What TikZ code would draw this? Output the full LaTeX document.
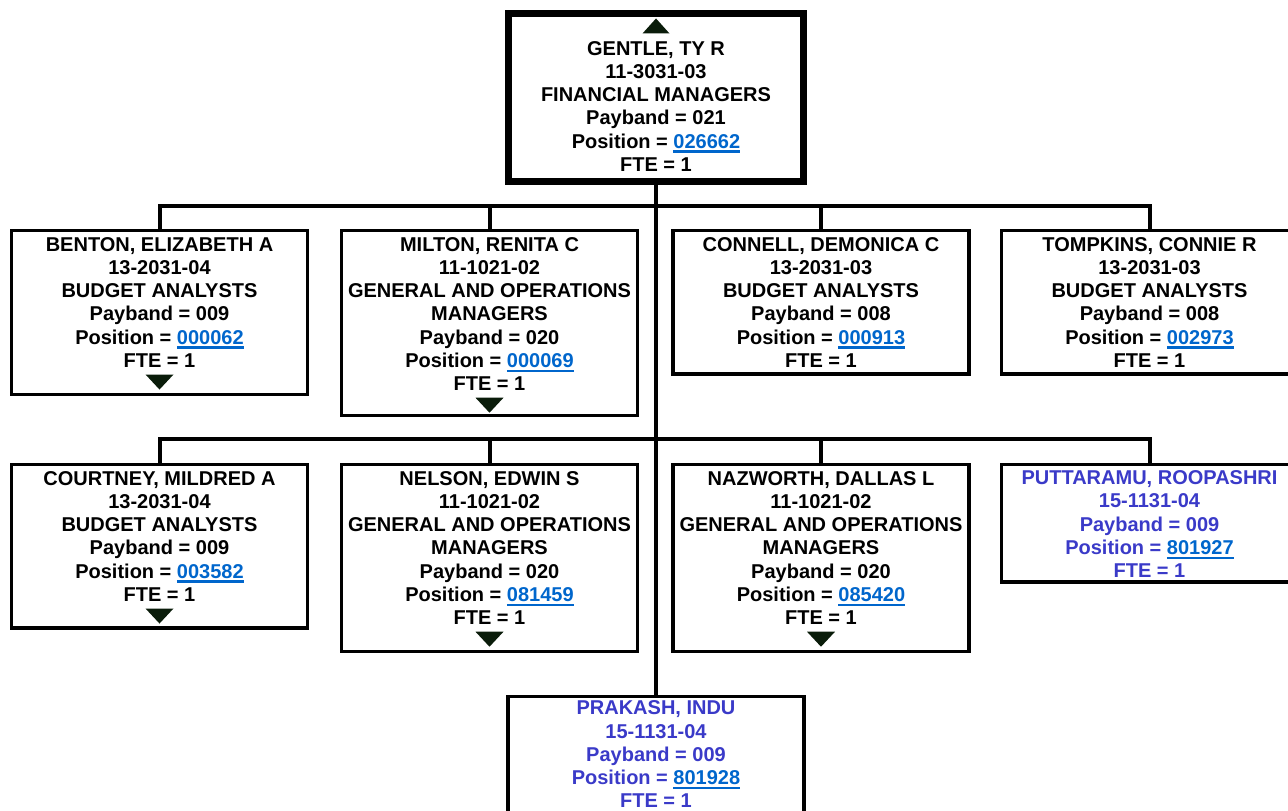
\documentclass[tikz,border=0pt]{standalone}
\usepackage{fontspec}
\setmainfont{Liberation Sans}
\usetikzlibrary{calc,positioning}

\definecolor{linkblue}{RGB}{0,102,204}
\definecolor{vacant}{RGB}{58,58,200}
\definecolor{markgreen}{RGB}{10,28,10}

\newcommand{\poslink}[1]{\textcolor{linkblue}{\setbox0=\hbox{#1}\rlap{\rule[-3.4pt]{\wd0}{1.6pt}}\box0}}

\tikzset{
  card/.style={draw, line width=2.6pt, minimum width=222pt, inner sep=0pt, outer sep=0pt},
  info/.style={align=center, inner sep=0pt, font=\fontsize{15}{17.4}\selectfont\bfseries},
  wire/.style={line width=3pt},
  downmark/.pic={\fill[markgreen] (-14,-7.5) -- (14,-7.5) -- (0,7.5) -- cycle;},
  upmark/.pic={\fill[markgreen] (-13.5,7.5) -- (13.5,7.5) -- (0,-7.5) -- cycle;}
}

\begin{document}
\begin{tikzpicture}[x=0.75pt,y=-0.75pt]
  \useasboundingbox (0,0) rectangle (1288,810);

  % top
  \node[card, line width=5.25pt, minimum width=221.25pt, minimum height=126pt, anchor=north] (gentle) at (656,13.5) {};
  \node[info, below=20.6pt of gentle.north] (gentleT) {GENTLE, TY R\\11-3031-03\\FINANCIAL MANAGERS\\Payband = 021\\Position = \poslink{026662}\\FTE = 1};
  \pic at ($(gentleT.north)+(0,-15)$) {upmark};

  % first row
  \node[card, minimum height=123pt, anchor=north] (benton) at (159.5,230.75) {};
  \node[info, below=4.7pt of benton.north] (bentonT) {BENTON, ELIZABETH A\\13-2031-04\\BUDGET ANALYSTS\\Payband = 009\\Position = \poslink{000062}\\FTE = 1};
  \pic at ($(bentonT.south)+(0,14.5)$) {downmark};

  \node[card, minimum height=138.75pt, anchor=north] (milton) at (489.5,230.75) {};
  \node[info, below=4.7pt of milton.north] (miltonT) {MILTON, RENITA C\\11-1021-02\\GENERAL AND OPERATIONS\\MANAGERS\\Payband = 020\\Position = \poslink{000069}\\FTE = 1};
  \pic at ($(miltonT.south)+(0,14.5)$) {downmark};

  \node[card, minimum height=107.6pt, anchor=north] (connell) at (821,230.75) {};
  \node[info, below=4.7pt of connell.north] (connellT) {CONNELL, DEMONICA C\\13-2031-03\\BUDGET ANALYSTS\\Payband = 008\\Position = \poslink{000913}\\FTE = 1};

  \node[card, minimum height=107.6pt, anchor=north] (tompkins) at (1149.5,230.75) {};
  \node[info, below=4.7pt of tompkins.north] (tompkinsT) {TOMPKINS, CONNIE R\\13-2031-03\\BUDGET ANALYSTS\\Payband = 008\\Position = \poslink{002973}\\FTE = 1};

  % second row
  \node[card, minimum height=122.6pt, anchor=north] (courtney) at (159.5,464.75) {};
  \node[info, below=4.7pt of courtney.north] (courtneyT) {COURTNEY, MILDRED A\\13-2031-04\\BUDGET ANALYSTS\\Payband = 009\\Position = \poslink{003582}\\FTE = 1};
  \pic at ($(courtneyT.south)+(0,14.5)$) {downmark};

  \node[card, minimum height=139.9pt, anchor=north] (nelson) at (489.5,464.75) {};
  \node[info, below=4.7pt of nelson.north] (nelsonT) {NELSON, EDWIN S\\11-1021-02\\GENERAL AND OPERATIONS\\MANAGERS\\Payband = 020\\Position = \poslink{081459}\\FTE = 1};
  \pic at ($(nelsonT.south)+(0,14.5)$) {downmark};

  \node[card, minimum height=139.9pt, anchor=north] (nazworth) at (821,464.75) {};
  \node[info, below=4.7pt of nazworth.north] (nazworthT) {NAZWORTH, DALLAS L\\11-1021-02\\GENERAL AND OPERATIONS\\MANAGERS\\Payband = 020\\Position = \poslink{085420}\\FTE = 1};
  \pic at ($(nazworthT.south)+(0,14.5)$) {downmark};

  \node[card, minimum height=88.1pt, anchor=north] (puttaramu) at (1149.5,464.75) {};
  \node[info, text=vacant, below=4.3pt of puttaramu.north] (puttaramuT) {PUTTARAMU, ROOPASHRI\\15-1131-04\\Payband = 009\\Position = \poslink{801927}\\FTE = 1};

  % bottom
  \node[card, minimum height=122pt, anchor=north] (prakash) at (656,696.75) {};
  \node[info, text=vacant, below=3pt of prakash.north] (prakashT) {PRAKASH, INDU\\15-1131-04\\Payband = 009\\Position = \poslink{801928}\\FTE = 1};

  % lines
  \coordinate (bar1) at (656,205.5);
  \coordinate (bar2) at (656,439);
  \draw[wire] (gentle.south) -- (prakash.north);
  \draw[wire] (benton.north) |- (bar1) -| (tompkins.north);
  \draw[wire] (milton.north) |- (bar1);
  \draw[wire] (connell.north) |- (bar1);
  \draw[wire] (courtney.north) |- (bar2) -| (puttaramu.north);
  \draw[wire] (nelson.north) |- (bar2);
  \draw[wire] (nazworth.north) |- (bar2);
\end{tikzpicture}
\end{document}
